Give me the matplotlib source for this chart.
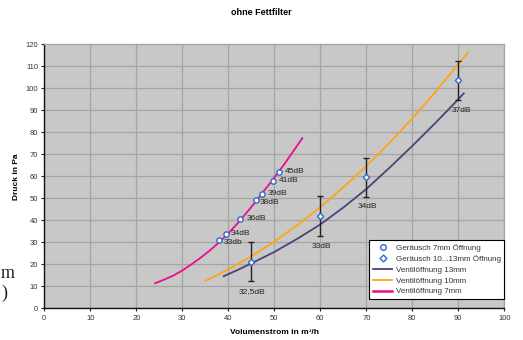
import matplotlib
matplotlib.use("Agg")
import matplotlib.pyplot as plt
from matplotlib.lines import Line2D

plt.rcParams['font.family'] = ['Liberation Sans', 'DejaVu Sans']

# --- data ---
# Geräusch 7mm Öffnung (points)
g7_x = [38.0, 39.4, 42.6, 46.0, 47.4, 49.7, 51.0]
g7_y = [30.9, 33.9, 40.6, 49.1, 52.0, 58.0, 62.1]
g7_lbl = ["33db", "34dB", "36dB", "38dB", "39dB", "41dB", "45dB"]
g7_lbl_x = [39.0, 40.6, 43.9, 46.8, 48.6, 51.0, 52.3]
g7_lbl_y = [30.1, 34.1, 40.6, 48.3, 52.0, 58.0, 62.1]

# Geräusch 10...13mm Öffnung (points with error bars)
g10_x = [45, 60, 70, 90]
g10_y = [21.2, 42.0, 59.5, 103.6]
g10_err = [9, 9, 9, 9]
g10_lbl = ["32,5dB", "33dB", "34dB", "37dB"]
g10_lbl_x = [45.2, 60.3, 70.3, 90.6]
g10_lbl_y = [7.5, 28.0, 46.2, 89.7]

# Ventilöffnung curves
v13_x = [39, 42, 45, 50, 55, 60, 65, 70, 75, 80, 85, 90, 91.2]
v13_y = [14.6, 17.4, 20.4, 25.6, 31.6, 38.1, 45.8, 54.2, 63.8, 73.8, 84.2, 95.0, 97.7]
v10_x = [35, 37.5, 40, 42.5, 45, 50, 55, 60, 65, 70, 75, 80, 85, 90, 92.1]
v10_y = [12.5, 15.0, 17.7, 20.6, 23.65, 30.35, 37.8, 46.0, 54.95, 64.65, 75.1, 86.3, 98.25, 110.95, 116.2]
v7_x = [24.1, 26, 28, 30, 32, 34, 36, 38, 40, 42, 44, 46, 48, 50, 52, 54, 56.1]
v7_y = [11.4, 13.0, 14.8, 17.2, 20.0, 23.0, 26.3, 30.0, 34.0, 38.6, 43.5, 48.6, 54.0, 59.4, 65.0, 71.0, 77.3]

x_ticks = list(range(0, 101, 10))
y_ticks = list(range(0, 121, 10))

fig = plt.figure(figsize=(5.23, 3.40), dpi=100)
ax = fig.add_axes([0.0847, 0.0932, 0.8795, 0.7765])
ax.set_facecolor('#C8C8C8')

c13 = '#4B4278'
c10 = '#FFA515'
c7 = '#EE0A8C'
cm = '#3366CC'

ax.plot(v13_x, v13_y, color=c13, lw=1.3, zorder=3)
ax.plot(v10_x, v10_y, color=c10, lw=1.3, zorder=3)
ax.plot(v7_x, v7_y, color=c7, lw=1.3, zorder=3)

ax.errorbar(g10_x, g10_y, yerr=g10_err, fmt='none', ecolor='#222222',
            elinewidth=1.0, capsize=2.5, capthick=1.0, zorder=4)
ax.plot(g10_x, g10_y, linestyle='none', marker='D', markersize=3.2,
        markerfacecolor='white', markeredgecolor=cm, markeredgewidth=1.0, zorder=5)
ax.plot(g7_x, g7_y, linestyle='none', marker='o', markersize=3.8,
        markerfacecolor='white', markeredgecolor=cm, markeredgewidth=1.0, zorder=5)

for x, y, t in zip(g7_lbl_x, g7_lbl_y, g7_lbl):
    ax.text(x, y, t, fontsize=6, color='#222222', ha='left', va='center', zorder=6)
for x, y, t in zip(g10_lbl_x, g10_lbl_y, g10_lbl):
    ax.text(x, y, t, fontsize=6, color='#222222', ha='center', va='center', zorder=6)

ax.set_xlim(0, 100)
ax.set_ylim(0, 120)
ax.set_xticks(x_ticks)
ax.set_yticks(y_ticks)
ax.tick_params(axis='both', labelsize=5.5, length=2.5, width=0.8, colors='#222222',
               labelcolor='#333333', pad=2)
ax.grid(True, color='#A5A5A5', lw=0.9)
ax.set_axisbelow(True)
for s in ['top', 'right']:
    ax.spines[s].set_color('#A5A5A5')
    ax.spines[s].set_linewidth(0.9)
for s in ['left', 'bottom']:
    ax.spines[s].set_color('#111111')
    ax.spines[s].set_linewidth(1.0)

ax.set_xlabel('Volumenstrom in m³/h', fontsize=6, fontweight='bold', labelpad=5)
ax.set_ylabel('Druck in Pa', fontsize=6, fontweight='bold', labelpad=4)
fig.text(0.5, 0.963, 'ohne Fettfilter', ha='center', va='center', fontsize=6.5, fontweight='bold')

handles = [
    Line2D([], [], linestyle='none', marker='o', markersize=4, markerfacecolor='white',
           markeredgecolor=cm, markeredgewidth=1.0),
    Line2D([], [], linestyle='none', marker='D', markersize=3.5, markerfacecolor='white',
           markeredgecolor=cm, markeredgewidth=1.0),
    Line2D([], [], color=c13, lw=1.3),
    Line2D([], [], color=c10, lw=1.3),
    Line2D([], [], color=c7, lw=1.8),
]
labels = ['Geräusch 7mm Öffnung', 'Geräusch 10...13mm Öffnung', 'Ventilöffnung 13mm',
          'Ventilöffnung 10mm', 'Ventilöffnung 7mm']
leg = ax.legend(handles, labels, loc='lower right', bbox_to_anchor=(1.0, 0.035),
                fontsize=5.8, frameon=True, fancybox=False, framealpha=1.0,
                edgecolor='black', handlelength=2.4, handletextpad=0.4,
                borderpad=0.45, labelspacing=0.4, borderaxespad=0.0)
leg.get_frame().set_linewidth(0.8)
for t in leg.get_texts():
    t.set_color('#333333')

# fragments from neighbouring page at the left edge
fig.text(1 / 523, 1 - 273 / 340, 'm', ha='left', va='center', fontsize=13,
         family='Liberation Serif', color='#222222')
fig.text(1 / 523, 1 - 293 / 340, ')', ha='left', va='center', fontsize=13,
         family='Liberation Serif', color='#222222')

fig.savefig('out.png', dpi=100)
